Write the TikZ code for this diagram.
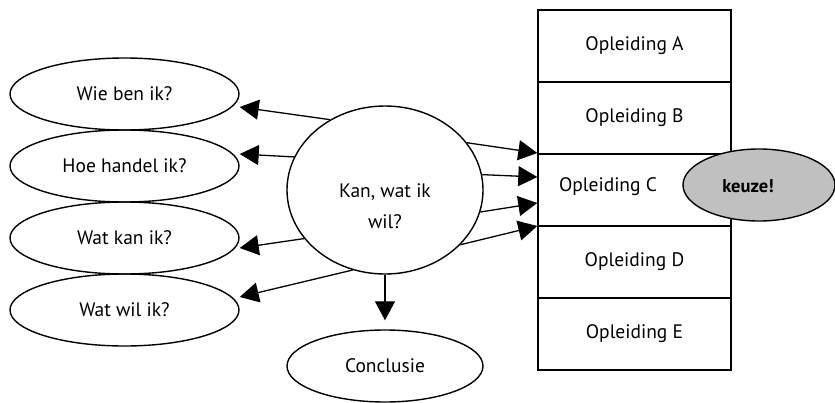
\documentclass[tikz,border=0pt]{standalone}
\usepackage{fontspec}
\setmainfont{PT Sans}
\usetikzlibrary{shapes.geometric,arrows.meta,calc}
\definecolor{keuzegray}{HTML}{C0C0C0}
\begin{document}
\begin{tikzpicture}[x=1pt,y=-1pt,
  font=\fontsize{19.5}{23}\selectfont,
  bubble/.style={ellipse,draw,line width=1.4pt,inner sep=0pt},
  smallbubble/.style={bubble,minimum width=229pt,minimum height=72pt},
  optbox/.style={rectangle,draw,line width=1.4pt,minimum width=193pt,minimum height=72pt,inner sep=0pt},
  arr/.style={line width=1.3pt,-{Triangle[length=19pt,width=20pt]}}
]
\useasboundingbox (0,0) rectangle (835,402);
% left ellipses
\node[smallbubble] (wie) at (124.5,94) {Wie ben ik?};
\node[smallbubble] (hoe) at (124.5,166) {Hoe handel ik?};
\node[smallbubble] (kanik) at (124.5,238) {Wat kan ik?};
\node[smallbubble] (wil) at (124.5,310) {Wat wil ik?};
% central
\node[bubble,minimum width=196pt,minimum height=168pt] (kan) at (385,190) {};
\node[align=center,inner sep=0pt] (kantext) at (385,206) {Kan, wat ik\\[8pt]wil?};
\node[bubble,minimum width=196pt,minimum height=72pt] (concl) at (385,366) {Conclusie};
% boxes
\node[optbox] (oplA) at (634.5,46) {Opleiding A};
\node[optbox] (oplB) at (634.5,118) {Opleiding B};
\node[optbox] (oplC) at (634.5,190) {};
\node[optbox] (oplD) at (634.5,262) {Opleiding D};
\node[optbox] (oplE) at (634.5,334) {Opleiding E};
\node[inner sep=0pt] (oplCtext) at (608,187) {Opleiding C};
% keuze
\node[bubble,fill=keuzegray,minimum width=152pt,minimum height=72pt] (keuze) at (759,185) {};
\node[inner sep=0pt,font=\fontsize{18.5}{22}\selectfont\bfseries] (keuzetext) at (748,186) {keuze!};
% arrows left
\draw[arr] (kan.128) -- ($(wie.east)+(0,13)$);
\draw[arr] (kan.160.8) -- ($(hoe.east)+(0,-12)$);
\draw[arr] (kan.211.5) -- ($(kanik.east)+(0,10)$);
\draw[arr] (kan.248.4) -- ($(wil.east)+(0,-13)$);
% arrows right
\draw[arr] (kan.30.3) -- ($(oplC.west)+(0,-37)$);
\draw[arr] (kan.9.4) -- ($(oplC.west)+(0,-13)$);
\draw[arr] (kan.-13) -- ($(oplC.west)+(0,13)$);
\draw[arr] (kan.-36.3) -- ($(oplC.west)+(0,36)$);
% down
\draw[arr] (kan.south) -- ([yshift=9pt]concl.north);
\end{tikzpicture}
\end{document}
